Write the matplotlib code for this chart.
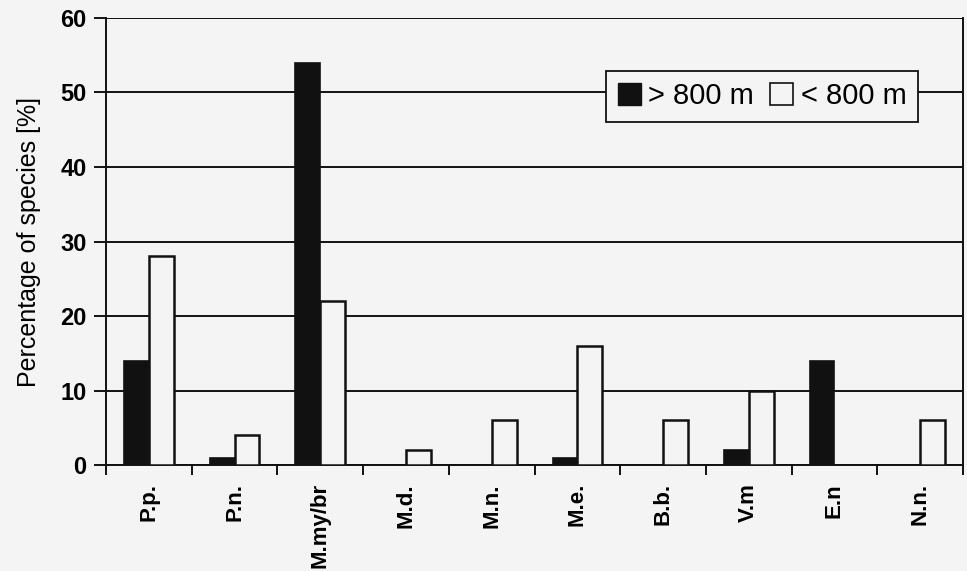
import numpy as np
from matplotlib import pyplot as plt
from matplotlib.patches import Patch

species = ['P.p.', 'P.n.', 'M.my/br', 'M.d.', 'M.n.', 'M.e.', 'B.b.', 'V.m', 'E.n', 'N.n.']
above_800 = [14, 1, 54, 0, 0, 1, 0, 2, 14, 0]
below_800 = [28, 4, 22, 2, 6, 16, 6, 10, 0, 6]

plt.rcParams['font.family'] = ['Liberation Sans', 'DejaVu Sans']

fig = plt.figure(figsize=(9.67, 5.71), dpi=100, facecolor='#f4f4f4')
ax = fig.add_axes([0.1096, 0.1856, 0.8863, 0.7829])
ax.set_facecolor('#f4f4f4')

x = np.arange(len(species))
w = 0.29
ax.bar(x - w / 2, above_800, w, color='#111111', edgecolor='#111111', linewidth=1.2, zorder=3)
ax.bar(x + w / 2, below_800, w, color='#f4f4f4', edgecolor='#111111', linewidth=1.8, zorder=3)

ax.set_ylim(0, 60)
ax.set_xlim(-0.5, len(species) - 0.5)
ax.set_yticks(range(0, 61, 10))
ax.yaxis.grid(True, color='#111111', linewidth=1.4, zorder=1)
ax.set_axisbelow(True)

ax.set_xticks(x)
ax.set_xticklabels(species, rotation=90, fontsize=16, fontweight='bold')
ax.set_xticks(np.arange(-0.5, len(species), 1), minor=True)
ax.tick_params(axis='x', which='major', length=0, pad=13)
ax.tick_params(axis='x', which='minor', length=7, width=1.3, direction='out')
ax.tick_params(axis='y', length=9, width=1.3, direction='out', labelsize=17, pad=5)
for lab in ax.get_yticklabels():
    lab.set_fontweight('bold')

for s in ax.spines.values():
    s.set_color('#111111')
    s.set_linewidth(1.4)
ax.spines['top'].set_visible(False)

ax.set_ylabel('Percentage of species [%]', fontsize=18, labelpad=14)

handles = [Patch(facecolor='#111111', edgecolor='#111111'),
           Patch(facecolor='#f4f4f4', edgecolor='#111111', linewidth=1.2)]
leg = ax.legend(handles, ['> 800 m', '< 800 m'], ncol=2, fontsize=21,
                loc='upper right', bbox_to_anchor=(0.9475, 0.882),
                handlelength=0.8, handleheight=0.8, handletextpad=0.25,
                columnspacing=0.55, borderpad=0.4, borderaxespad=0,
                fancybox=False, framealpha=1, facecolor='#f4f4f4',
                edgecolor='#111111')
leg.get_frame().set_linewidth(1.3)
leg.set_zorder(5)

plt.savefig('out.png', dpi=100, facecolor=fig.get_facecolor())
